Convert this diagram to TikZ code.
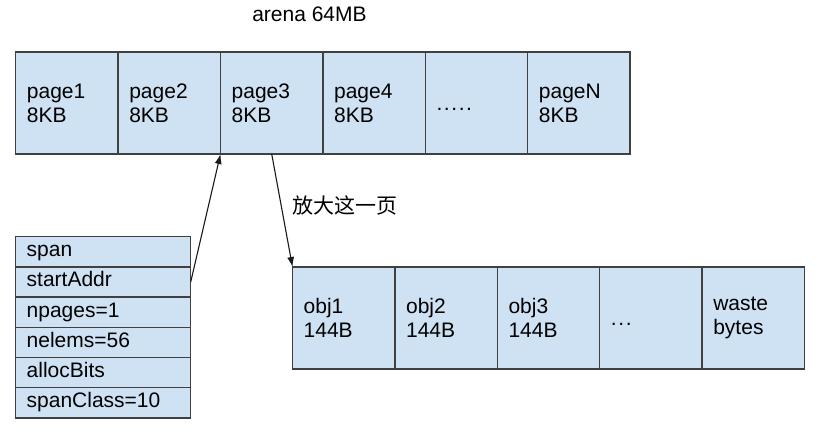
\documentclass[tikz,border=0pt]{standalone}
\usepackage{fontspec}
\setmainfont{Liberation Sans}
\newfontfamily\cjk{Noto Sans CJK SC}
\usetikzlibrary{positioning,arrows.meta}

\begin{document}
\begin{tikzpicture}[x=1bp,y=-1bp,>={Latex[length=10bp,width=7bp]}]
  % Colors
  \definecolor{cellblue}{HTML}{CFE2F3}
  \colorlet{bordercolor}{black!75}
  \colorlet{arrowcolor}{black!90}

  % Styles
  \tikzstyle{txt}=[font=\fontsize{21bp}{24bp}\selectfont]
  \tikzstyle{cell}=[txt,draw=bordercolor,fill=cellblue,line width=1.3bp,outer sep=0pt,inner sep=0pt,anchor=north west,minimum width=102.4bp,minimum height=102bp,text width=80bp,align=left]
  \tikzstyle{field}=[cell,minimum width=175bp,minimum height=30.2bp,text width=153bp,text height=14bp,text depth=4bp]
  \tikzstyle{dots}=[text height=20bp,text depth=4bp]
  \tikzstyle{link}=[->,draw=arrowcolor,line width=1.1bp]

  % The graphic
  \path[fill=white,use as bounding box] (0,0) rectangle (824,438);

  % arena
  \node[txt] (arena) at (309.5,14) {arena 64MB};
  \node[cell] (p1) at (15.7,52) {page1\\8KB};
  \node[cell,right=0pt of p1] (p2) {page2\\8KB};
  \node[cell,right=0pt of p2] (p3) {page3\\8KB};
  \node[cell,right=0pt of p3] (p4) {page4\\8KB};
  \node[cell,dots,right=0pt of p4] (pdots) {.\kern1.6bp.\kern1.6bp.\kern1.6bp.\kern1.6bp.};
  \node[cell,right=0pt of pdots] (pN) {pageN\\8KB};

  % span
  \node[field] (sp) at (15.7,236.7) {span};
  \node[field,below=0pt of sp] (sa) {startAddr};
  \node[field,below=0pt of sa] (np) {npages=1};
  \node[field,below=0pt of np] (ne) {nelems=56};
  \node[field,below=0pt of ne] (ab) {allocBits};
  \node[field,below=0pt of ab] (sc) {spanClass=10};

  % one page
  \begin{scope}[every node/.append style={minimum width=102.7bp,minimum height=103bp}]
    \node[cell] (o1) at (292.5,267) {obj1\\144B};
    \node[cell,right=0pt of o1] (o2) {obj2\\144B};
    \node[cell,right=0pt of o2] (o3) {obj3\\144B};
    \node[cell,dots,right=0pt of o3] (odots) {.\kern1.6bp.\kern1.6bp.};
    \node[cell,right=0pt of odots] (waste) {waste\\bytes};
  \end{scope}

  % links
  \draw[link] (sa.east) -- (p3.south west);
  \draw[link] (p3.south) -- (o1.north west);
  \node[font=\cjk\fontsize{21bp}{24bp}\selectfont,anchor=west] (zoomin) at (289,205) {放大这一页};
\end{tikzpicture}
\end{document}
